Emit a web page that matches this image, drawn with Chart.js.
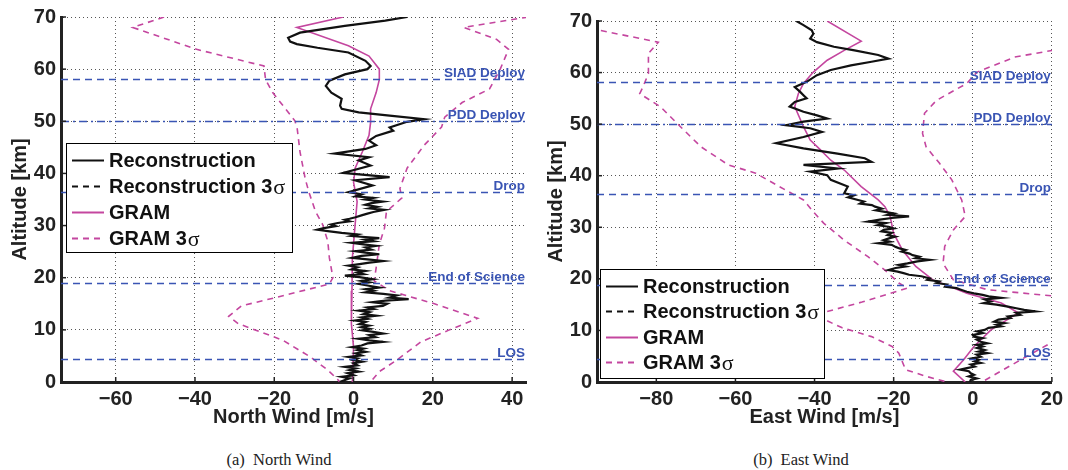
<!DOCTYPE html>
<html><head><meta charset="utf-8">
<script src="https://cdn.jsdelivr.net/npm/chart.js@4.4.1/dist/chart.umd.min.js"></script>
<style>
body{margin:0;background:#fff;width:1068px;height:470px;position:relative;overflow:hidden;font-family:"Liberation Sans",Arial,sans-serif}
.pane{position:absolute;top:0;width:534px;height:430px}
#p1{left:0}#p2{left:534px}
.cap{position:absolute;top:450px;font-family:"Liberation Serif","Times New Roman",serif;font-size:16.5px;color:#222;transform:translateX(-50%);white-space:pre}
</style></head><body>
<div class="pane" id="p1"><canvas id="c1" width="534" height="430"></canvas></div>
<div class="pane" id="p2"><canvas id="c2" width="534" height="430"></canvas></div>
<div class="cap" style="left:279px">(a)  North Wind</div>
<div class="cap" style="left:801px">(b)  East Wind</div>
<script>
const altTicks = [0,10,20,30,40,50,60,70];
const northTicks = [-60,-40,-20,0,20,40];
const eastTicks = [-80,-60,-40,-20,0,20];
const seriesNames = ['Reconstruction','Reconstruction 3σ','GRAM','GRAM 3σ'];
const eventNames = ['SIAD Deploy','PDD Deploy','Drop','End of Science','LOS'];
const eventAlts = [58.2, 50.0, 36.4, 18.9, 4.4];

// North wind panel
const northReconAlt = [70.0,69.3,68.3,67.0,66.0,65.3,64.8,64.1,63.2,61.6,60.6,60.0,59.0,57.8,56.8,55.5,54.3,53.0,52.4,51.7,51.1,50.4,49.9,48.8,48.2,47.2,46.3,45.4,44.7,43.8,43.1,42.5,41.5,40.1,39.3,38.7,37.7,
  36.4,36.0,35.6,35.3,35.0,34.6,34.3,34.0,33.6,33.3,
  33.0,32.6,32.3,32.0,31.6,31.3,31.1,30.8,30.5,30.2,
  29.9,29.5,29.2,28.9,28.6,28.3,28.0,27.6,27.3,27.0,
  26.7,26.4,26.1,25.8,25.4,25.1,24.8,24.5,24.2,23.8,
  23.5,23.2,22.9,22.6,22.3,22.0,21.6,21.3,21.0,20.7,
  20.4,20.1,19.7,19.4,19.1,18.8,18.5,18.1,17.8,17.5,
  17.2,16.9,16.6,16.2,15.9,15.6,15.3,15.0,14.6,14.3,
  14.0,13.7,13.4,13.0,12.7,12.4,12.1,11.8,11.5,11.1,
  10.8,10.5,10.2,9.9,9.6,9.3,9.0,8.6,8.3,8.0,
  7.7,7.4,7.0,6.7,6.4,6.1,5.8,5.5,5.1,4.8,
  4.5,4.2,3.9,3.6,3.2,2.9,2.6,2.3,2.0,1.7,
  1.3,1.0,0.7,0.3,0.0];
const northRecon = [13.5,8.0,-2.2,-13.5,-16.5,-16.0,-14.3,-9.1,-1.3,3.0,4.3,3.5,-2.2,-6.1,-7.0,-5.6,-3.0,-3.4,-3.0,1.3,9.1,17.8,13.5,9.1,10.0,5.7,3.9,5.7,3.0,-4.8,3.9,1.3,4.3,-2.6,9.1,0.4,4.8,
  -1.3,2.0,0.5,5.0,3.0,7.4,4.5,3.0,6.0,4.0,
  7.8,5.0,3.5,2.2,0.5,-1.0,-2.2,-1.0,-4.0,-5.7,
  -4.5,-7.5,-9.1,-6.0,-3.0,1.0,-0.5,6.5,3.0,5.0,
  -0.4,2.5,5.7,3.0,4.5,0.4,3.0,6.5,2.0,-0.4,
  3.5,7.4,4.0,1.5,-1.3,1.0,-0.5,3.0,1.0,2.5,
  -2.2,1.5,4.8,2.0,4.0,1.3,3.5,6.5,3.0,5.0,
  3.0,7.5,10.9,9.0,13.9,8.0,4.8,8.5,7.4,3.5,
  5.0,1.3,4.0,2.5,5.7,2.0,3.5,0.4,3.0,1.5,
  3.9,2.0,4.0,2.2,5.0,7.4,4.0,5.5,1.3,4.0,
  7.4,3.5,2.0,-0.4,2.5,1.0,3.0,0.5,2.0,-1.3,
  1.0,0.0,2.2,0.0,1.0,-2.2,0.5,-1.0,1.3,-1.5,
  0.0,-3.0,-1.0,-2.5,-3.5];
const northGramAlt = [70,68,64.5,62.5,60,58,55.5,52.4,49.8,47.3,44.1,41,38.3,34.6,30.2,23.8,17.5,14.3,11.2,6.7,0];
const northGram = [-2.6,-14.3,-1.3,3.9,6.5,6.5,5.7,4.3,4.3,3.9,2.2,0.4,0,0.9,0.4,-0.3,-0.4,-0.5,-0.6,0,-0.3];
const northLoAlt = [70,68,63.8,60.6,58,55.5,53,50.1,48.5,44.1,39,36.5,32.7,30.2,27,23.8,20,18.8,16.2,14.6,12.6,11.2,8,4.8,2.3,0.4,0];
const northLo = [-47.8,-55.7,-39.6,-22.6,-22.2,-20.4,-17.8,-14.8,-14.2,-13.5,-12.2,-11.3,-9.6,-7.8,-6.5,-6.1,-5.2,-6.1,-19.6,-28.3,-31.5,-29.1,-17.8,-10.9,-6.5,-3.9,-3.5];
const northHiAlt = [70,68,65.7,63.8,60,56.2,53.6,50.8,48.9,45.4,41,37.1,35.3,32.7,29.5,26.4,21.9,19.4,17.5,15,12.2,9.9,7.7,4.2,2,0];
const northHi = [44,27.8,36.1,39.1,37,34.3,27.4,23,22.2,17.8,13.5,11.7,12.2,8.3,7.8,6.5,5.7,5.2,9.1,20.4,31.3,23.9,17,10.9,6.5,4.3];

// East wind panel
const eastReconAlt = [70.0,69.2,68.2,67.5,66.6,65.9,65.0,64.3,63.4,62.7,62.1,61.4,60.5,59.5,58.2,57.2,56.3,55.6,55.0,54.3,53.4,52.4,51.7,51.1,50.5,49.8,49.2,48.5,47.5,46.3,45.3,44.3,43.4,42.7,42.1,41.4,40.8,40.1,39.2,37.9,
  36.6,36.2,35.8,35.3,35.0,34.6,34.3,34.0,33.6,33.3,
  33.0,32.7,32.4,32.1,31.8,31.5,31.1,30.8,30.4,30.1,
  29.8,29.5,29.2,28.9,28.5,28.2,27.9,27.5,27.2,26.9,
  26.6,26.2,25.9,25.6,25.3,24.9,24.6,24.3,24.0,23.7,
  23.4,23.0,22.7,22.4,22.1,21.7,21.4,21.1,20.8,20.5,
  20.1,19.8,19.5,19.2,18.9,18.5,18.2,17.9,17.5,17.2,
  16.9,16.6,16.3,16.0,15.6,15.3,15.0,14.6,14.3,14.0,
  13.7,13.4,13.0,12.7,12.4,12.1,11.7,11.4,11.1,10.8,
  10.5,10.1,9.8,9.5,9.1,8.8,8.5,8.2,7.8,7.5,
  7.2,6.9,6.6,6.2,5.9,5.6,5.3,4.9,4.6,4.3,
  4.0,3.7,3.4,3.0,2.7,2.4,2.1,1.7,1.4,1.1,
  0.7,0.4,0.0];
const eastRecon = [-44.6,-42.8,-40.7,-40.3,-41.1,-39.4,-35.1,-29.9,-23.9,-21.3,-25.6,-30.8,-35.9,-39.4,-42.0,-45.0,-43.7,-42.8,-42.0,-45.0,-46.3,-42.8,-39.4,-36.8,-42.8,-47.2,-41.1,-38.1,-42.8,-49.7,-42.8,-34.2,-27.3,-25.6,-42.8,-34.2,-41.1,-36.8,-35.9,-31.6,
  -32.5,-30.0,-31.5,-29.0,-27.5,-28.5,-25.5,-24.7,-23.0,-24.5,
  -22.2,-20.0,-21.5,-16.1,-20.5,-23.5,-26.5,-22.0,-24.0,-21.3,
  -20.0,-22.5,-23.1,-20.5,-21.5,-19.6,-21.0,-22.5,-21.0,-23.9,
  -20.5,-19.5,-18.5,-17.0,-18.0,-16.0,-15.2,-13.5,-14.5,-10.9,
  -14.0,-16.5,-18.7,-17.0,-19.5,-21.3,-19.0,-17.5,-16.1,-13.0,
  -10.9,-11.5,-8.5,-9.2,-6.5,-7.0,-4.1,-3.0,-1.5,0.3,
  2.5,4.0,7.2,3.0,4.5,2.8,6.0,8.9,11.0,13.0,
  15.8,11.0,12.0,8.9,9.5,6.5,5.4,8.0,6.0,7.2,
  4.0,3.0,1.1,2.5,0.0,0.3,2.5,1.0,2.0,3.7,
  1.0,2.5,1.1,3.0,1.5,3.7,1.0,2.0,-0.2,1.5,
  0.5,2.0,-0.5,0.5,-1.5,-3.2,-1.0,-0.5,0.3,-1.0,
  1.0,-0.5,-0.6];
const eastGramAlt = [70,66.1,64.3,62.4,60.1,57.9,55.9,53.4,49.5,46.9,45,43,41.1,37.9,35.3,34,32.1,28.8,25.6,22.4,19.8,17.2,15.3,13.4,10.1,6.9,4.3,2.1,0];
const eastGram = [-36.8,-28.2,-32.5,-36.8,-40.3,-42.8,-44.1,-45,-42.8,-41.1,-38.5,-35.9,-32.5,-28.2,-23.9,-22.2,-20.9,-20,-17.8,-14.4,-10.1,-1.5,7.2,11.5,4.6,0.3,-2.3,-4.9,-1.9];
const eastLoAlt = [70,68.3,65.9,63.7,59.8,57.2,55.9,53.4,49.5,45.6,42.1,40.5,37.9,35.3,33,30.8,27.5,24.3,21.7,19.2,18.2,15.5,13,10.5,8.8,6.9,5.6,2.4,1.1,0];
const eastLo = [-102,-95,-79.5,-82,-82,-83.4,-84.2,-79,-73.9,-68.7,-61.8,-54.9,-48.9,-42.8,-40.3,-37.7,-32.5,-26.5,-22.2,-18.7,-16.5,-28,-40,-33,-25.6,-20.4,-18.7,-17,-11.8,-6.6];
const eastHiAlt = [70,66,64.3,63,60.1,57.9,54.6,52.1,48.2,45.6,42.4,39.2,35.3,32.1,29.5,26.3,23,19.8,17.9,16.7,13,9.5,7.7,3.9,0.4,0];
const eastHi = [38,30,20.1,10.6,1.1,-1.5,-9.2,-12.2,-12.7,-11.8,-8.4,-5.3,-2.8,-1.9,-4.9,-7.1,-7.5,-4.9,3.7,20,34,24,20,11.2,3.2,2.3];

const BLACK = '#111111', MAG = '#c4469f', BLUE = '#3a55b4';
const fmt = v => v < 0 ? '\u2212' + Math.abs(v) : String(v);
const pts = (alt, val) => alt.map((a, i) => ({x: val[i], y: a}));

const eventPlugin = {
  id: 'events',
  afterDatasetsDraw(chart) {
    const {ctx, chartArea: ca, scales: {y}} = chart;
    ctx.save();
    eventNames.forEach((name, i) => {
      const py = Math.round(y.getPixelForValue(eventAlts[i])) + 0.5;
      ctx.strokeStyle = BLUE; ctx.lineWidth = 1.6;
      ctx.setLineDash(name === 'PDD Deploy' ? [8,4,2,4] : [7,5]);
      ctx.beginPath(); ctx.moveTo(ca.left, py); ctx.lineTo(ca.right, py); ctx.stroke();
      ctx.setLineDash([]);
      ctx.font = 'bold 13.5px "Liberation Sans"';
      ctx.fillStyle = BLUE; ctx.textAlign = 'right'; ctx.textBaseline = 'alphabetic';
      ctx.fillText(name, ca.right - 1, py - 3);
    });
    ctx.restore();
  }
};
const tickPlugin = {
  id: 'innerTicks',
  afterDraw(chart) {
    const {ctx, chartArea: ca, scales: {x, y}} = chart;
    ctx.save(); ctx.strokeStyle = '#222'; ctx.lineWidth = 1.5;
    x.ticks.forEach(t => { const px = x.getPixelForValue(t.value); ctx.beginPath(); ctx.moveTo(px, ca.bottom); ctx.lineTo(px, ca.bottom - 5); ctx.stroke(); });
    y.ticks.forEach(t => { const py = y.getPixelForValue(t.value); ctx.beginPath(); ctx.moveTo(ca.left, py); ctx.lineTo(ca.left + 5, py); ctx.stroke(); });
    ctx.restore();
  }
};
const legendPlugin = {
  id: 'boxLegend',
  afterDraw(chart, args, o) {
    const {ctx} = chart;
    ctx.save();
    ctx.fillStyle = '#fff'; ctx.fillRect(o.x, o.y, o.w, o.h);
    ctx.strokeStyle = '#000'; ctx.lineWidth = 1; ctx.strokeRect(o.x + 0.5, o.y + 0.5, o.w, o.h);
    const items = chart.data.datasets.filter(d => !d.noLegend);
    items.forEach((d, i) => {
      const cy = Math.round(o.y + o.first + i * o.row) + 0.5;
      ctx.strokeStyle = d.borderColor; ctx.lineWidth = 2; ctx.setLineDash(d.borderDash || []);
      ctx.beginPath(); ctx.moveTo(o.x + 6, cy); ctx.lineTo(o.x + 38, cy); ctx.stroke();
      ctx.setLineDash([]);
      ctx.fillStyle = '#111'; ctx.textBaseline = 'middle'; ctx.textAlign = 'left';
      const parts = d.label.split('σ');
      ctx.font = 'bold 20px "Liberation Sans"';
      ctx.fillText(parts[0], o.x + 43, cy + 1);
      if (parts.length > 1) {
        const w = ctx.measureText(parts[0]).width;
        ctx.font = '22px "Liberation Serif"';
        ctx.fillText('σ', o.x + 43 + w + 1, cy + 2);
      }
    });
    ctx.restore();
  }
};

function makeChart(id, P) {
  const datasets = [
    {label: seriesNames[0], data: pts(P.reconAlt, P.recon), borderColor: BLACK, borderWidth: 2.2},
    {label: seriesNames[1], data: [], borderColor: BLACK, borderWidth: 2, borderDash: [6,5]},
    {label: seriesNames[2], data: pts(P.gramAlt, P.gram), borderColor: MAG, borderWidth: 1.6},
    {label: seriesNames[3], data: pts(P.loAlt, P.lo), borderColor: MAG, borderWidth: 1.6, borderDash: [6,5]},
    {label: seriesNames[3], data: pts(P.hiAlt, P.hi), borderColor: MAG, borderWidth: 1.6, borderDash: [6,5], noLegend: true}
  ].map(d => Object.assign({showLine: true, pointRadius: 0, tension: 0, fill: false}, d));
  return new Chart(document.getElementById(id), {
    type: 'scatter',
    data: {datasets},
    plugins: [eventPlugin, tickPlugin, legendPlugin],
    options: {
      responsive: false, animation: false, events: [], devicePixelRatio: 1,
      layout: {padding: {left: 0, right: P.padR, top: P.padT, bottom: 0}},
      plugins: {legend: {display: false}, tooltip: {enabled: false}, boxLegend: P.legend},
      scales: {
        x: {
          type: 'linear', min: P.xmin, max: P.xmax,
          afterBuildTicks: s => { s.ticks = P.xticks.map(v => ({value: v})); },
          afterFit: s => { s.height = 48; },
          ticks: {font: {size: 20, weight: 'bold', family: 'Liberation Sans'}, color: '#222', padding: 5, maxRotation: 0, autoSkip: false, callback: fmt},
          grid: {color: '#555', lineWidth: 1, drawTicks: false},
          border: {display: true, color: '#222', width: 3, dash: [1,3]},
          title: {display: true, text: P.xtitle, font: {size: 20, weight: 'bold', family: 'Liberation Sans'}, color: '#222', padding: {top: 0, bottom: 1}}
        },
        y: {
          type: 'linear', min: 0, max: 70,
          afterBuildTicks: s => { s.ticks = altTicks.map(v => ({value: v})); },
          afterFit: s => { s.width = P.yw; },
          ticks: {font: {size: 20, weight: 'bold', family: 'Liberation Sans'}, color: '#222', padding: 5, autoSkip: false, callback: fmt},
          grid: {color: '#555', lineWidth: 1, drawTicks: false},
          border: {display: true, color: '#222', width: 3, dash: [1,3]},
          title: {display: true, text: 'Altitude [km]', font: {size: 20, weight: 'bold', family: 'Liberation Sans'}, color: '#222', padding: {top: P.ytp, bottom: 0}}
        }
      }
    }
  });
}

makeChart('c1', {
  reconAlt: northReconAlt, recon: northRecon, gramAlt: northGramAlt, gram: northGram,
  loAlt: northLoAlt, lo: northLo, hiAlt: northHiAlt, hi: northHi,
  xmin: -73.8, xmax: 43.5, xticks: northTicks, xtitle: 'North Wind [m/s]',
  yw: 61, ytp: 8, padR: 8, padT: 14,
  legend: {x: 66, y: 143, w: 226, h: 109, first: 16.5, row: 26}
});
makeChart('c2', {
  reconAlt: eastReconAlt, recon: eastRecon, gramAlt: eastGramAlt, gram: eastGram,
  loAlt: eastLoAlt, lo: eastLo, hiAlt: eastHiAlt, hi: eastHi,
  xmin: -95, xmax: 20, xticks: eastTicks, xtitle: 'East Wind [m/s]',
  yw: 63, ytp: 10, padR: 13, padT: 21,
  legend: {x: 66, y: 269, w: 224, h: 109, first: 16.5, row: 25.5}
});
</script>
</body></html>
